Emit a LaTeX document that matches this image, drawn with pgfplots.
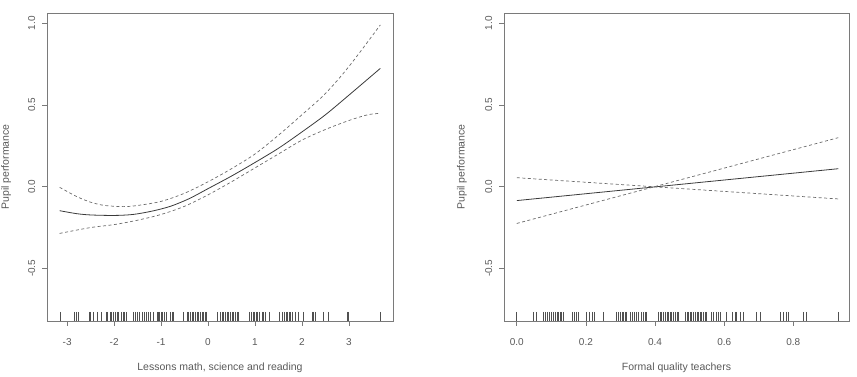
\documentclass[border=0pt]{standalone}
\usepackage{pgfplots}
\pgfplotsset{compat=1.18}
\usepackage{fontspec}
\setmainfont{Liberation Sans}
\definecolor{boxc}{HTML}{7A7A7A}
\definecolor{txtc}{HTML}{5A5A5A}
\definecolor{solidc}{HTML}{3A3A3A}
\definecolor{dashc}{HTML}{6A6A6A}
\definecolor{rugc}{HTML}{505050}
\pgfplotsset{
  rstyle/.style={
    scale only axis, width=346pt, height=308pt,
    axis line style={boxc, line width=0.6pt},
    tick style={boxc, line width=0.6pt},
    tick align=outside, major tick length=5pt,
    xtick pos=bottom, ytick pos=left,
    ymin=-0.822, ymax=1.063,
    ytick={-0.5,0,0.5,1},
    yticklabels={-0.5,0.0,0.5,1.0},
    yticklabel style={rotate=90, anchor=south},
    yticklabel shift=3.3pt,
    xticklabel shift=8.6pt,
    ticklabel style={font=\fontsize{10}{12}\selectfont, text=txtc},
    label style={font=\fontsize{10.5}{12}\selectfont, text=txtc},
    ylabel={Pupil performance},
    clip=false,
  },
  rug/.style={only marks, mark=|, mark size=4.5pt, mark options={rugc, line width=0.6pt}},
  fitline/.style={solidc, line width=0.8pt, smooth},
  ciline/.style={dashc, line width=0.7pt, dash pattern=on 3pt off 2.5pt, smooth},
}
\begin{document}
\begin{tikzpicture}
\useasboundingbox (0,0) rectangle (857pt,377pt);
\begin{axis}[rstyle, at={(47pt,56pt)}, anchor=south west,
  xmin=-3.43, xmax=3.94,
  xtick={-3,-2,-1,0,1,2,3},
  xticklabels={-3,-2,-1,0,1,2,3},
  xlabel={Lessons math, science and reading},
  xlabel style={at={(axis description cs:0.5,-0.153)}, anchor=center},
  ylabel style={at={(axis description cs:-0.118,0.5)}, anchor=center},
]
\addplot[fitline] coordinates {(-3.16,-0.147) (-2.8,-0.165) (-2.5,-0.173) (-2.0,-0.176) (-1.6,-0.17) (-1.2,-0.15) (-0.8,-0.12) (-0.4,-0.073) (0,-0.012) (0.5,0.065) (1.0,0.148) (1.5,0.235) (2.0,0.335) (2.5,0.44) (3.0,0.56) (3.67,0.724)};
\addplot[ciline] coordinates {(-3.16,-0.004) (-2.8,-0.06) (-2.5,-0.095) (-2.2,-0.115) (-1.8,-0.122) (-1.5,-0.115) (-1.0,-0.09) (-0.5,-0.04) (0,0.03) (0.5,0.11) (1.0,0.2) (1.5,0.315) (2.0,0.44) (2.5,0.57) (3.0,0.735) (3.67,0.99)};
\addplot[ciline] coordinates {(-3.16,-0.286) (-2.5,-0.25) (-2.0,-0.232) (-1.5,-0.205) (-1.0,-0.17) (-0.5,-0.12) (0,-0.05) (0.5,0.03) (1.0,0.115) (1.5,0.2) (2.0,0.285) (2.5,0.35) (3.0,0.405) (3.4,0.44) (3.67,0.449)};
\addplot[rug] table[x index=0, y expr=-0.794, header=false] {
-3.156
-2.844
-2.801
-2.773
-2.539
-2.504
-2.447
-2.362
-2.270
-2.163
-2.135
-2.092
-2.050
-2.021
-1.972
-1.936
-1.901
-1.851
-1.809
-1.780
-1.738
-1.582
-1.546
-1.496
-1.454
-1.404
-1.355
-1.312
-1.262
-1.227
-1.170
-1.085
-1.057
-1.028
-1.000
-0.972
-0.929
-0.887
-0.801
-0.766
-0.730
-0.532
-0.447
-0.411
-0.376
-0.340
-0.305
-0.270
-0.234
-0.199
-0.163
-0.128
-0.092
-0.057
-0.035
0.191
0.262
0.298
0.333
0.369
0.404
0.440
0.475
0.511
0.546
0.582
0.617
0.652
0.887
0.915
0.957
0.986
1.028
1.057
1.099
1.149
1.184
1.220
1.312
1.525
1.574
1.624
1.667
1.695
1.723
1.752
1.787
1.858
1.929
2.021
2.213
2.248
2.284
2.447
2.567
2.957
2.993
3.667
};
\end{axis}
\begin{axis}[rstyle, at={(504pt,56pt)}, anchor=south west, width=345pt,
  xmin=-0.037, xmax=0.961,
  xtick={0,0.2,0.4,0.6,0.8},
  xticklabels={0.0,0.2,0.4,0.6,0.8},
  xlabel={Formal quality teachers},
  xlabel style={at={(axis description cs:0.5,-0.153)}, anchor=center},
  ylabel style={at={(axis description cs:-0.122,0.5)}, anchor=center},
]
\addplot[fitline] coordinates {(0,-0.085) (0.93,0.11)};
\addplot[ciline] coordinates {(0,-0.225) (0.93,0.30)};
\addplot[ciline] coordinates {(0,0.055) (0.93,-0.075)};
\addplot[rug] table[x index=0, y expr=-0.794, header=false] {
0
0.048
0.056
0.077
0.082
0.087
0.094
0.101
0.106
0.111
0.116
0.120
0.125
0.130
0.135
0.162
0.166
0.172
0.178
0.202
0.210
0.217
0.224
0.251
0.289
0.294
0.299
0.304
0.308
0.313
0.318
0.328
0.333
0.339
0.345
0.352
0.361
0.366
0.371
0.376
0.410
0.414
0.419
0.424
0.429
0.434
0.439
0.443
0.448
0.453
0.458
0.463
0.468
0.487
0.492
0.496
0.501
0.506
0.511
0.516
0.521
0.526
0.530
0.535
0.540
0.545
0.549
0.564
0.569
0.578
0.583
0.588
0.607
0.622
0.631
0.636
0.646
0.654
0.694
0.704
0.762
0.771
0.781
0.786
0.829
0.837
0.930
};
\end{axis}
\end{tikzpicture}
\end{document}
